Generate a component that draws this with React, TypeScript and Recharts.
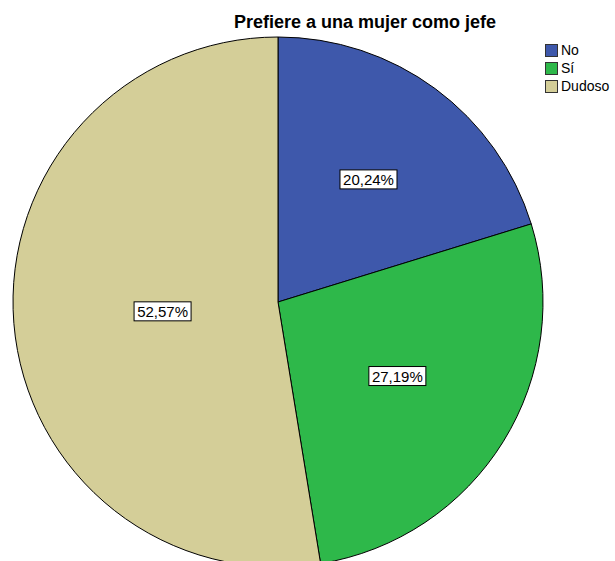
import React from "react";
import { Cell, Legend, Pie, PieChart } from "recharts";

const categories = ["No", "Sí", "Dudoso"];
const percentages = [20.24, 27.19, 52.57];
const colors = ["#3e58ab", "#2eb84a", "#d4ce98"];

const data = categories.map((name, i) => ({ name, value: percentages[i] }));

const RAD = Math.PI / 180;
const labelFactor = [0.575, 0.53, 0.437];

function renderLabel(props: any) {
  const { cx, cy, midAngle, outerRadius, index, value } = props;
  const r = outerRadius * labelFactor[index];
  const x = cx + r * Math.cos(-midAngle * RAD);
  const y = cy + r * Math.sin(-midAngle * RAD);
  const text = value.toFixed(2).replace(".", ",") + "%";
  return (
    <g>
      <rect x={x - 28.5} y={y - 9.5} width={57} height={19} fill="#fff" stroke="#000" strokeWidth={1} />
      <text x={x} y={y + 5.5} textAnchor="middle" fontSize={15} fill="#000" fontFamily="'Liberation Sans', Arial, sans-serif">
        {text}
      </text>
    </g>
  );
}

function LegendBox() {
  return (
    <div style={{ fontFamily: "'Liberation Sans', Arial, sans-serif", fontSize: 14, color: "#000" }}>
      {categories.map((c, i) => (
        <div key={c} style={{ display: "flex", alignItems: "center", height: 18 }}>
          <span style={{ width: 11, height: 11, background: colors[i], border: "1px solid #333", marginRight: 3 }} />
          <span>{c}</span>
        </div>
      ))}
    </div>
  );
}

export default function App() {
  return (
    <div style={{ position: "absolute", left: 0, top: 0, width: 615, height: 561, background: "#fff", overflow: "hidden" }}>
      <div
        style={{
          position: "absolute",
          left: 0,
          width: 730,
          top: 12,
          textAlign: "center",
          fontFamily: "'Liberation Sans', Arial, sans-serif",
          fontWeight: "bold",
          fontSize: 18,
          color: "#000",
          zIndex: 2,
        }}
      >
        Prefiere a una mujer como jefe
      </div>
      <PieChart width={615} height={561} margin={{ top: 0, right: 0, bottom: 0, left: 0 }}>
        <Pie
          data={data}
          dataKey="value"
          nameKey="name"
          cx={278}
          cy={302}
          outerRadius={265}
          startAngle={90}
          endAngle={-270}
          stroke="#000"
          strokeWidth={1}
          label={renderLabel}
          labelLine={false}
          isAnimationActive={false}
        >
          {data.map((d, i) => (
            <Cell key={d.name} fill={colors[i]} />
          ))}
        </Pie>
        <Legend
          content={() => <LegendBox />}
          wrapperStyle={{ position: "absolute", left: 545, top: 41, width: 70 }}
        />
      </PieChart>
    </div>
  );
}
